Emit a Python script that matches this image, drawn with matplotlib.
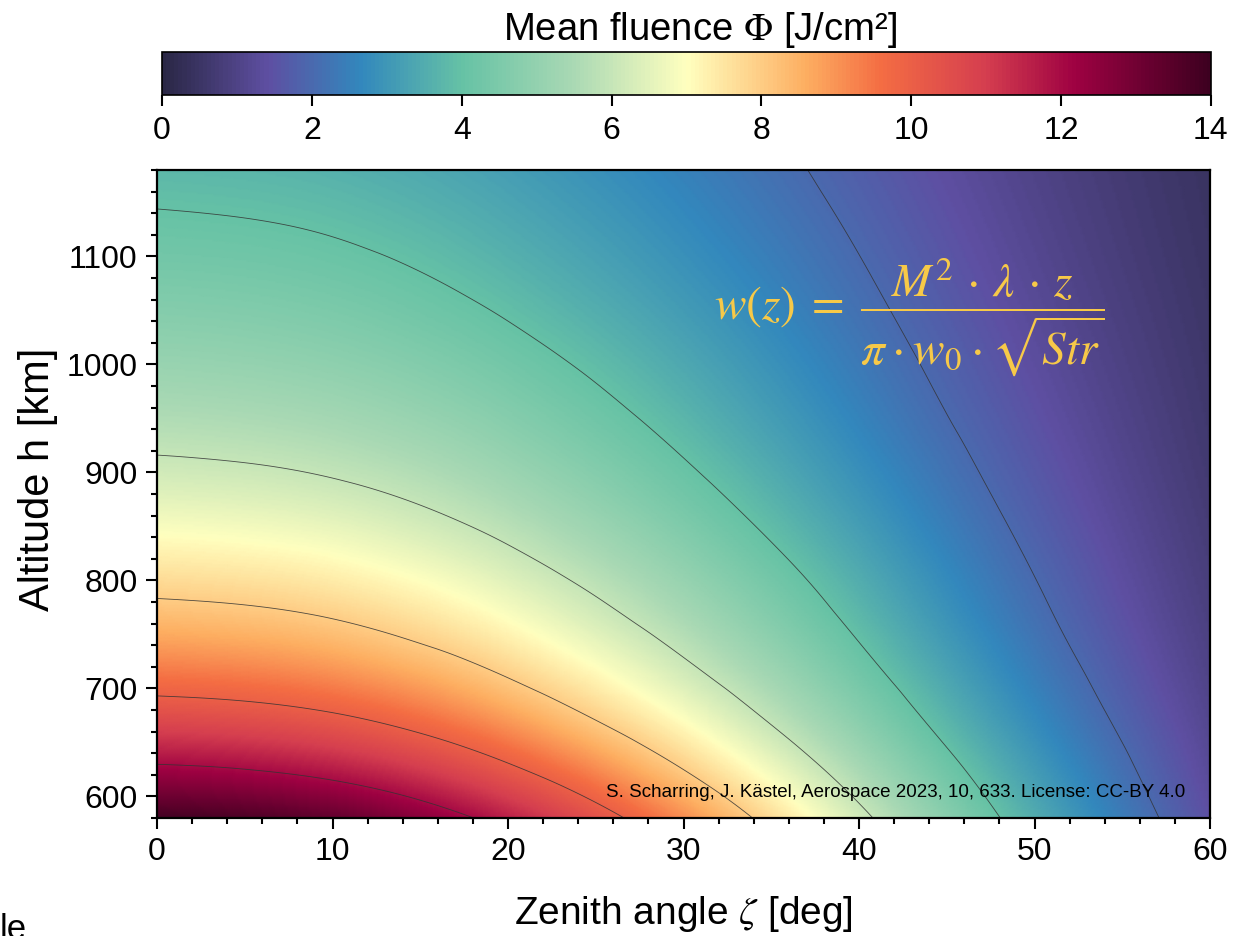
import numpy as np
import matplotlib
matplotlib.use('Agg')
import matplotlib.pyplot as plt
import matplotlib.tri as mtri
from matplotlib.colors import LinearSegmentedColormap, Normalize
from matplotlib.cm import ScalarMappable
from matplotlib.ticker import MultipleLocator

plt.rcParams['font.family'] = ['Liberation Sans', 'DejaVu Sans']

# Sample grid
zenith_deg = [0, 10, 20, 30, 40, 50, 60]
altitude_km = [580, 680, 780, 880, 980, 1080, 1180]

# Mean fluence [J/cm^2]: one row per altitude, one column per zenith angle
fluence = [
    [13.88, 13.28, 11.59, 9.10, 6.23, 3.52, 1.44],
    [10.37, 9.93, 8.67, 6.82, 4.69, 2.67, 1.11],
    [8.06, 7.72, 6.75, 5.32, 3.68, 2.10, 0.88],
    [6.46, 6.19, 5.42, 4.28, 2.97, 1.71, 0.72],
    [5.31, 5.08, 4.46, 3.53, 2.45, 1.42, 0.61],
    [4.44, 4.26, 3.73, 2.96, 2.07, 1.20, 0.52],
    [3.77, 3.62, 3.18, 2.53, 1.77, 1.03, 0.45],
]

contour_levels = [2, 4, 6, 8, 10, 12]
cbar_ticks = [0, 2, 4, 6, 8, 10, 12, 14]

# colour scale (value on the colour bar, colour)
cmap_values = [0, 1.4, 2.65, 4.0, 5.5, 7.0, 8.6, 9.6, 11.0, 12.2, 14]
cmap_colors = ['#2a2745', '#5e4fa2', '#3288bd', '#66c2a5', '#aad9b4', '#ffffbf',
               '#fdae61', '#f46d43', '#d53e4f', '#9e0142', '#3d0020']

vmin, vmax = 0, 14
cmap = LinearSegmentedColormap.from_list(
    'fluence', [((v - vmin) / (vmax - vmin), c) for v, c in zip(cmap_values, cmap_colors)])
norm = Normalize(vmin, vmax)

# Smooth the sample grid with matplotlib's cubic triangle interpolator
nx, ny = len(zenith_deg), len(altitude_km)
Zg, Hg = np.meshgrid(zenith_deg, altitude_km)
triangles = []
for j in range(ny - 1):
    for i in range(nx - 1):
        k = j * nx + i
        triangles.append([k, k + 1, k + nx + 1])
        triangles.append([k, k + nx + 1, k + nx])
tri = mtri.Triangulation(Zg.ravel(), Hg.ravel() / 10.0, triangles)
interp = mtri.CubicTriInterpolator(tri, np.array(fluence).ravel(), kind='min_E')

zz = np.linspace(zenith_deg[0], zenith_deg[-1], 401)
hh = np.linspace(altitude_km[0], altitude_km[-1], 401)
ZZ, HH = np.meshgrid(zz, hh)
FF = interp(ZZ, HH / 10.0)

fig = plt.figure(figsize=(12.48, 9.36), dpi=100)
ax = fig.add_axes([0.1258, 0.1261, 0.8438, 0.6923])

ax.pcolormesh(zz, hh, FF, shading='gouraud', cmap=cmap, norm=norm, rasterized=True)
ax.contour(zz, hh, FF, levels=contour_levels, colors='#333333', linewidths=0.6, alpha=0.85)

ax.set_xlim(0, 60)
ax.set_ylim(580, 1180)
ax.xaxis.set_major_locator(MultipleLocator(10))
ax.xaxis.set_minor_locator(MultipleLocator(2))
ax.yaxis.set_major_locator(MultipleLocator(100))
ax.yaxis.set_minor_locator(MultipleLocator(20))
ax.tick_params(which='both', direction='out', top=False, right=False, width=1.5)
ax.tick_params(which='major', length=8, labelsize=23, pad=6)
ax.tick_params(which='minor', length=4.5)
for s in ax.spines.values():
    s.set_linewidth(1.6)

ax.set_xlabel(r'Zenith angle $\zeta$ [deg]', fontsize=28, math_fontfamily='stix', labelpad=19)
ax.set_ylabel('Altitude h [km]', fontsize=30)
ax.yaxis.set_label_coords(-0.094, 0.522)

# formula annotation
ax.text(0.714, 0.773,
        r'$w(z)\;=\;\dfrac{M^2 \,\cdot\, \lambda \,\cdot\, z}'
        r'{\pi \:\cdot\: w_0 \:\cdot\: \sqrt{Str}}$',
        transform=ax.transAxes, ha='center', va='center', fontsize=34,
        color='#f7c948', math_fontfamily='stix')

ax.text(0.976, 0.039, 'S. Scharring, J. Kästel, Aerospace 2023, 10, 633. License: CC-BY 4.0',
        transform=ax.transAxes, ha='right', va='center', fontsize=13.5, color='black')

# colour bar on top
cax = fig.add_axes([0.1298, 0.8985, 0.8405, 0.0459])
sm = ScalarMappable(norm=norm, cmap=cmap)
cb = fig.colorbar(sm, cax=cax, orientation='horizontal', ticks=cbar_ticks)
cb.outline.set_linewidth(1.2)
cax.xaxis.set_ticks_position('bottom')
cax.tick_params(direction='out', length=8, width=1.5, labelsize=23, pad=7)
fig.text(0.561, 0.968, r'Mean fluence $\Phi$ [J/cm²]', ha='center', va='center',
         fontsize=27.5, math_fontfamily='stix')

# clipped leftover text at the lower left edge
fig.text(0.0, -3 / 936, 'le', ha='left', va='baseline', fontsize=25)

fig.savefig('out.png', dpi=100)
